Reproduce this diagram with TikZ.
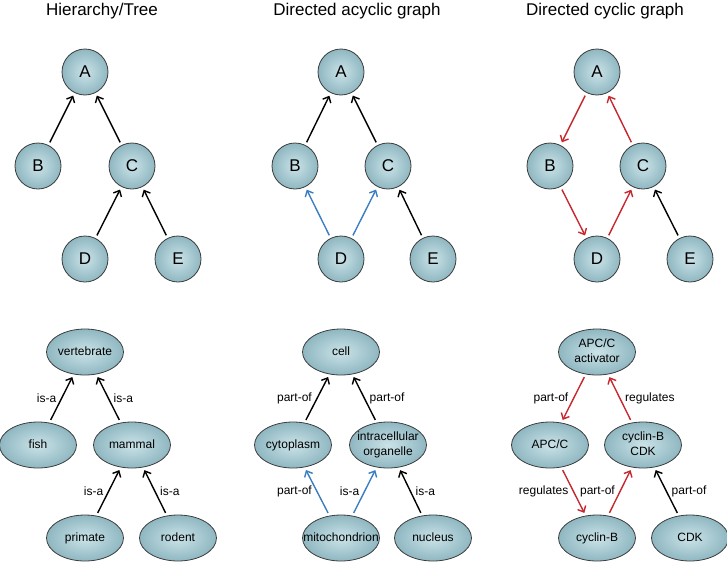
\documentclass[tikz,border=0pt]{standalone}
\usepackage{fontspec}
\setmainfont{Liberation Sans}
\usetikzlibrary{shapes.geometric,arrows.meta}
\definecolor{nodein}{HTML}{CBE3E8}
\definecolor{nodeout}{HTML}{8FB7C1}
\definecolor{nodeline}{HTML}{3C3C3C}
\definecolor{redc}{HTML}{C4282E}
\definecolor{bluec}{HTML}{3A7DC0}
\newcommand{\mltext}[1]{\makebox[0pt]{\begin{tabular}{@{}c@{}}#1\end{tabular}}}
\tikzset{
  vtx/.style={circle, minimum size=46pt, inner sep=0pt, shading=radial,
    inner color=nodein, outer color=nodeout, draw=nodeline, line width=0.8pt,
    font=\fontsize{17}{17}\selectfont},
  ell/.style={ellipse, minimum width=77pt, minimum height=46pt, inner sep=0pt,
    shading=radial, inner color=nodein, outer color=nodeout, draw=nodeline,
    line width=0.8pt, font=\fontsize{12}{15}\selectfont},
  conn/.style={line width=1.4pt, -{Straight Barb[length=5pt,width=9pt]},
    shorten <=3pt, shorten >=3pt},
  rconn/.style={conn, draw=redc},
  bconn/.style={conn, draw=bluec},
  lbl/.style={font=\fontsize{12}{12}\selectfont, inner sep=1.5pt, text=black},
  ttl/.style={font=\fontsize{17}{17}\selectfont, anchor=base}
}
\begin{document}
\begin{tikzpicture}[x=1pt, y=-1pt]
\useasboundingbox (0,0) rectangle (727,562);
% titles
\node[ttl] (t1) at (102,16) {Hierarchy/Tree};
\node[ttl] (t2) at (357,16) {Directed acyclic graph};
\node[ttl] (t3) at (605,16) {Directed cyclic graph};

% ---- top row, panel 1
\node[vtx] (a1) at (85,72) {A};
\node[vtx] (b1) at (38,166) {B};
\node[vtx] (c1) at (132,166) {C};
\node[vtx] (d1) at (85,259) {D};
\node[vtx] (e1) at (178,259) {E};
\draw[conn] (b1) -- (a1);
\draw[conn] (c1) -- (a1);
\draw[conn] (d1) -- (c1);
\draw[conn] (e1) -- (c1);

% ---- top row, panel 2
\node[vtx] (a2) at (341,72) {A};
\node[vtx] (b2) at (295,166) {B};
\node[vtx] (c2) at (388,166) {C};
\node[vtx] (d2) at (341,259) {D};
\node[vtx] (e2) at (433,259) {E};
\draw[conn] (b2) -- (a2);
\draw[conn] (c2) -- (a2);
\draw[bconn] (d2) -- (b2);
\draw[bconn] (d2) -- (c2);
\draw[conn] (e2) -- (c2);

% ---- top row, panel 3
\node[vtx] (a3) at (597,72) {A};
\node[vtx] (b3) at (550,166) {B};
\node[vtx] (c3) at (643,166) {C};
\node[vtx] (d3) at (597,259) {D};
\node[vtx] (e3) at (690,259) {E};
\draw[rconn] (a3) -- (b3);
\draw[rconn] (b3) -- (d3);
\draw[rconn] (d3) -- (c3);
\draw[rconn] (c3) -- (a3);
\draw[conn] (e3) -- (c3);

% ---- bottom row, panel 1
\node[ell] (vert) at (85,352) {\mltext{vertebrate}};
\node[ell] (fish) at (38,445) {\mltext{fish}};
\node[ell] (mamm) at (132,445) {\mltext{mammal}};
\node[ell] (prim) at (85,538) {\mltext{primate}};
\node[ell] (rod) at (178,538) {\mltext{rodent}};
\draw[conn] (fish) -- node[lbl, midway, left=3pt] {is-a} (vert);
\draw[conn] (mamm) -- node[lbl, midway, right=3pt] {is-a} (vert);
\draw[conn] (prim) -- node[lbl, midway, left=3pt] {is-a} (mamm);
\draw[conn] (rod) -- node[lbl, midway, right=3pt] {is-a} (mamm);

% ---- bottom row, panel 2
\node[ell] (cell) at (341,352) {\mltext{cell}};
\node[ell] (cyto) at (293,445) {\mltext{cytoplasm}};
\node[ell] (orga) at (388,445) {\mltext{intracellular\\organelle}};
\node[ell] (mito) at (341,538) {\mltext{mitochondrion}};
\node[ell] (nucl) at (433,538) {\mltext{nucleus}};
\draw[conn] (cyto) -- node[lbl, midway, left=3pt] {part-of} (cell);
\draw[conn] (orga) -- node[lbl, midway, right=3pt] {part-of} (cell);
\draw[bconn] (mito) -- node[lbl, midway, left=3pt] {part-of} (cyto);
\draw[bconn] (mito) -- node[lbl, midway, left=3pt] {is-a} (orga);
\draw[conn] (nucl) -- node[lbl, midway, right=3pt] {is-a} (orga);

% ---- bottom row, panel 3
\node[ell] (actv) at (597,352) {\mltext{APC/C\\activator}};
\node[ell] (apcc) at (550,445) {\mltext{APC/C}};
\node[ell] (cbcdk) at (643,445) {\mltext{cyclin-B\\CDK}};
\node[ell] (cycb) at (597,538) {\mltext{cyclin-B}};
\node[ell] (cdk) at (690,538) {\mltext{CDK}};
\draw[rconn] (actv) -- node[lbl, midway, left=3pt] {part-of} (apcc);
\draw[rconn] (cbcdk) -- node[lbl, midway, right=3pt] {regulates} (actv);
\draw[rconn] (apcc) -- node[lbl, midway, left=3pt] {regulates} (cycb);
\draw[rconn] (cycb) -- node[lbl, midway, left=3pt] {part-of} (cbcdk);
\draw[conn] (cdk) -- node[lbl, midway, right=3pt] {part-of} (cbcdk);
\end{tikzpicture}
\end{document}
